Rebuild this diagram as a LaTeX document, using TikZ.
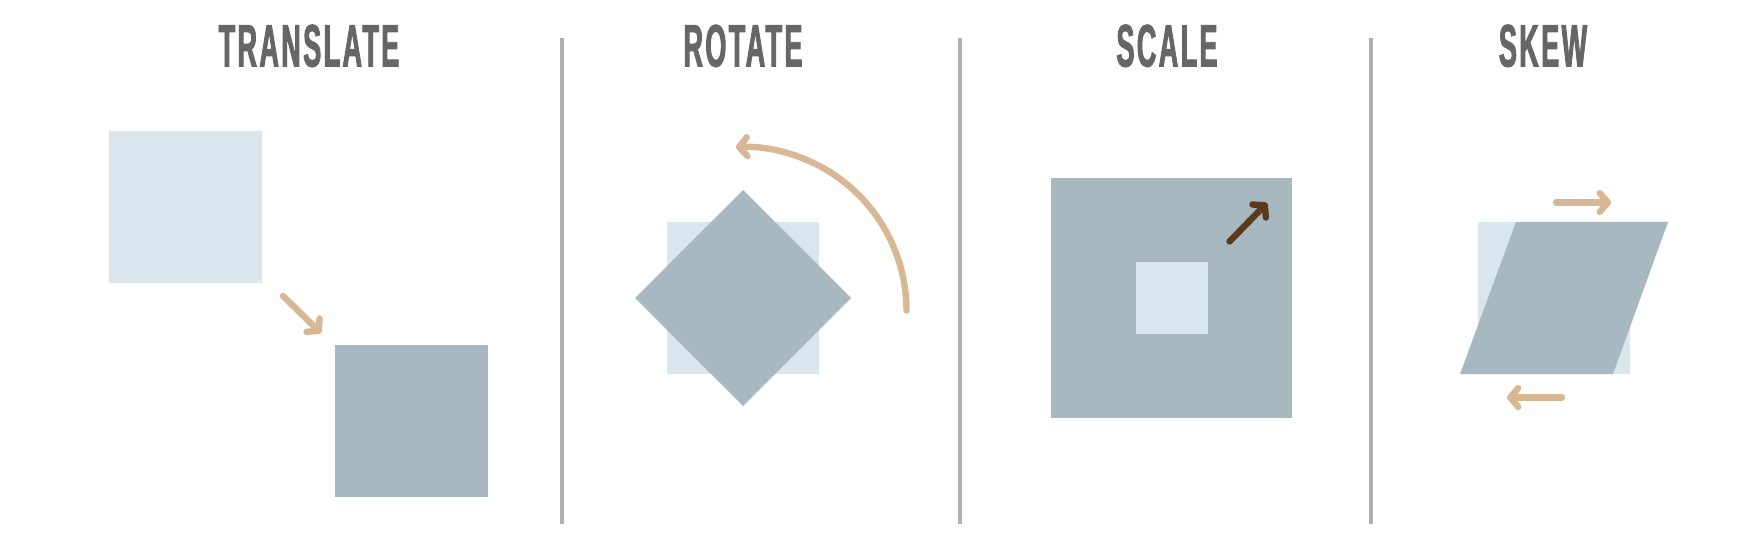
\documentclass[tikz,border=0pt]{standalone}
\usepackage{fontspec}
\newfontfamily\titlefont[FakeStretch=0.45,FakeBold=1.5,LetterSpace=4]{Liberation Sans}
\usetikzlibrary{arrows.meta}
\definecolor{lightsq}{HTML}{D9E6EE}
\definecolor{darksq}{HTML}{A7B8C1}
\definecolor{tanarrow}{HTML}{D8B794}
\definecolor{brownarrow}{HTML}{5B391D}
\definecolor{sepgray}{HTML}{B1B1B1}
\definecolor{titlegray}{HTML}{666666}
\tikzset{
  lightbox/.style={fill=lightsq},
  darkbox/.style={fill=darksq},
  sepline/.style={draw=sepgray,line width=3pt},
  titletext/.style={font=\titlefont\bfseries\fontsize{45}{45}\selectfont,text=titlegray,anchor=base,inner sep=0pt},
  barb/.style={-{Straight Barb[length=6pt,width=14pt,round]}},
  tanline/.style={draw=tanarrow,line width=4.8pt,line cap=round,barb},
  brownline/.style={draw=brownarrow,line width=4.8pt,line cap=round,barb},
}
\begin{document}
\begin{tikzpicture}[x=0.75pt,y=-0.75pt]
\useasboundingbox (0,0) rectangle (1762,552);
% titles
\node[titletext] (tTranslate) at (309,66.5) {TRANSLATE};
\node[titletext] (tRotate) at (743,66.5) {ROTATE};
\node[titletext] (tScale) at (1167,66.5) {SCALE};
\node[titletext] (tSkew) at (1543,66.5) {SKEW};
% separators
\coordinate (s1a) at (561.5,38); \coordinate (s1b) at (561.5,524);
\coordinate (s2a) at (960,38);   \coordinate (s2b) at (960,524);
\coordinate (s3a) at (1371,38);  \coordinate (s3b) at (1371,524);
\draw[sepline] (s1a) -- (s1b);
\draw[sepline] (s2a) -- (s2b);
\draw[sepline] (s3a) -- (s3b);
% translate
\fill[lightbox] (109,131) rectangle (262,283);
\fill[darkbox] (335,345) rectangle (488,497);
\coordinate (trA) at (283,296);
\coordinate (trB) at (321,333);
\draw[tanline] (trA) -- (trB);
% rotate
\fill[lightbox] (667,222) rectangle (819,374);
\fill[darkbox] (743,190) -- (851,298) -- (743,406) -- (635,298) -- cycle;
\coordinate (roA) at (906.5,310.5);
\draw[tanline] (roA) arc[start angle=0,end angle=92.5,radius=122.6pt];
% scale
\fill[darkbox] (1051,178) rectangle (1292,418);
\fill[lightbox] (1136,262) rectangle (1208,334);
\coordinate (scA) at (1229.5,241.5);
\coordinate (scB) at (1267,203);
\draw[brownline] (scA) -- (scB);
% skew
\fill[lightbox] (1478,222) rectangle (1630,374);
\fill[darkbox] (1516,222) -- (1668,222) -- (1613,374) -- (1460,374) -- cycle;
\coordinate (skA) at (1556,202.5);
\coordinate (skB) at (1611,202.5);
\coordinate (skC) at (1562,397.5);
\coordinate (skD) at (1507,397.5);
\draw[tanline] (skA) -- (skB);
\draw[tanline] (skC) -- (skD);
\end{tikzpicture}
\end{document}
